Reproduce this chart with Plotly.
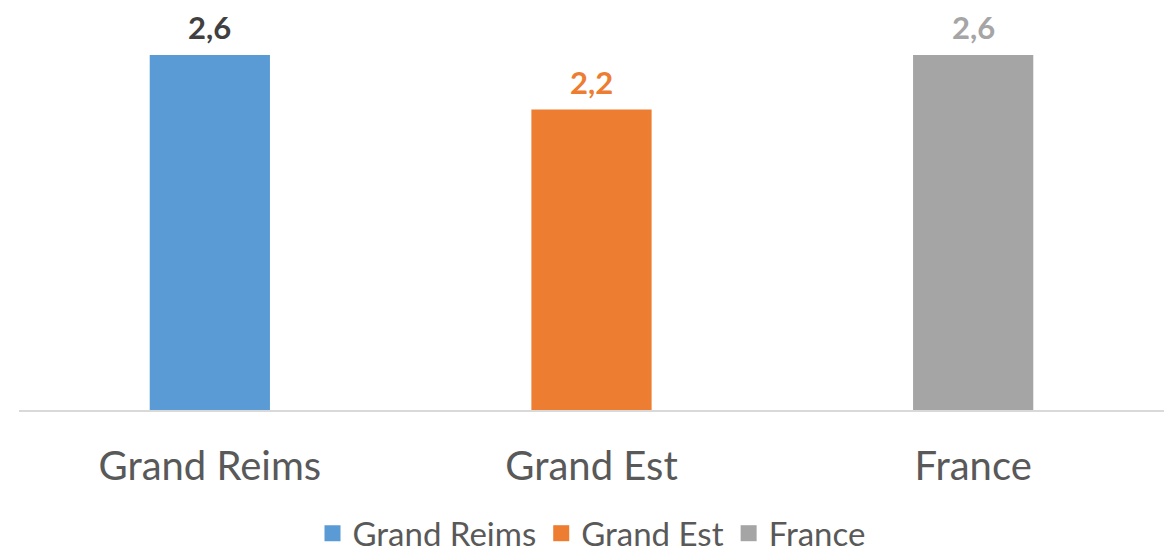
import plotly.graph_objects as go

# Données
categories = ["Grand Reims", "Grand Est", "France"]
valeurs = [2.6, 2.2, 2.6]
couleurs = ["#5B9BD5", "#ED7D31", "#A5A5A5"]
couleurs_etiquettes = ["#404040", "#ED7D31", "#A5A5A5"]

fig = go.Figure()

for cat, val, coul in zip(categories, valeurs, couleurs):
    fig.add_trace(go.Bar(
        x=[cat], y=[val], name=cat, showlegend=False,
        marker=dict(color=coul, line=dict(width=0)),
        width=0.315,
    ))

# Légende avec des carrés plus grands
for cat, coul in zip(categories, couleurs):
    fig.add_trace(go.Scatter(
        x=[None], y=[None], name=cat, mode="markers",
        marker=dict(symbol="square", size=16, color=coul),
    ))

# Etiquettes de valeurs (virgule décimale)
for cat, val, coul in zip(categories, valeurs, couleurs_etiquettes):
    fig.add_annotation(
        x=cat, y=val, text="<b>" + f"{val:.1f}".replace(".", ",") + "</b>",
        showarrow=False, yanchor="bottom", yshift=8, borderpad=0,
        font=dict(family="Lato, Carlito, sans-serif", size=31, color=coul),
    )

# la page HTML ajoute une marge de 8 px : figure un peu plus petite
fig.update_layout(
    width=1168, height=546,
    barmode="overlay",
    paper_bgcolor="white", plot_bgcolor="white",
    margin=dict(l=11, r=12, t=0, b=144),
    font=dict(family="Lato, Carlito, sans-serif", color="#595959"),
    showlegend=True,
    legend=dict(
        orientation="h", x=0.5, xanchor="center",
        yref="container", y=0.038, yanchor="middle",
        font=dict(size=33, color="#595959"), itemsizing="trace",
        traceorder="normal",
    ),
    xaxis=dict(
        showgrid=False, showline=True, linecolor="#D9D9D9", linewidth=2,
        ticks="", tickfont=dict(size=40, color="#595959"),
        ticklabelstandoff=20,
    ),
    yaxis=dict(
        range=[0, 2.944], showgrid=False, showticklabels=False,
        zeroline=False, showline=False,
    ),
)

fig.write_html("out.html")
